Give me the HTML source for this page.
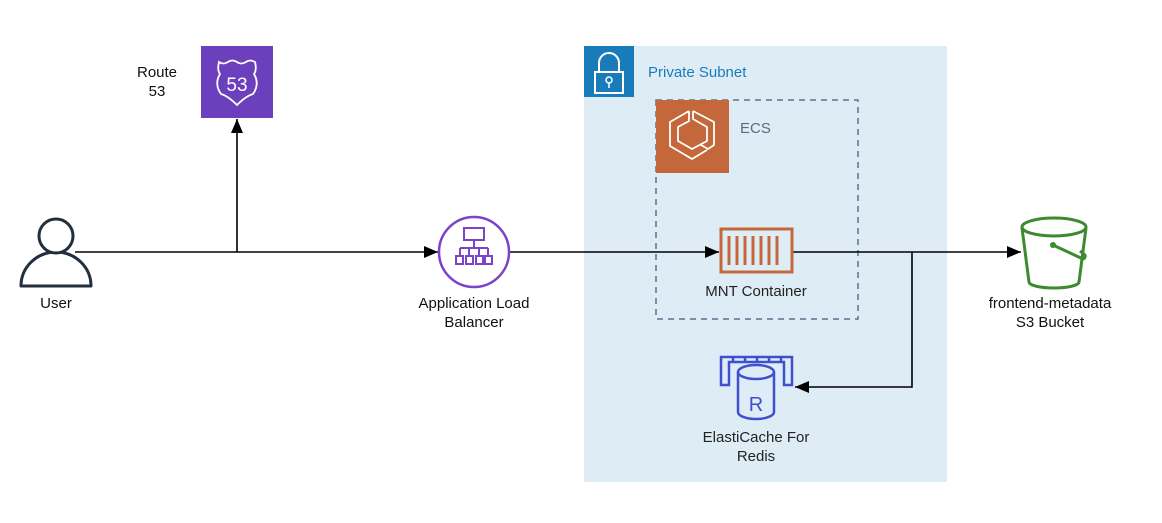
<!DOCTYPE html>
<html><head><meta charset="utf-8"><style>
body{margin:0;background:#fff;}
svg{display:block;font-family:"Liberation Sans",Arial,sans-serif;}
</style></head><body>
<svg width="1162" height="523" viewBox="0 0 1162 523" xmlns="http://www.w3.org/2000/svg">
<defs>
<marker id="b" viewBox="0 0 14 12" markerWidth="14" markerHeight="12" refX="14" refY="6" orient="auto" markerUnits="userSpaceOnUse"><path d="M0,0 L14,6 L0,12 z" fill="#000"/></marker>
</defs>
<rect x="584" y="46" width="363" height="436" fill="#deedf5"/>
<rect x="584" y="46" width="50" height="51" fill="#1a7bba"/>
<path d="M599,72 v-9 a10,10 0 0 1 20,0 v9" fill="none" stroke="#fff" stroke-width="2"/>
<rect x="595" y="72" width="28" height="21" fill="none" stroke="#fff" stroke-width="2"/>
<circle cx="609" cy="80" r="3" fill="none" stroke="#fff" stroke-width="1.5"/>
<line x1="609" y1="83" x2="609" y2="88" stroke="#fff" stroke-width="1.5"/>
<text x="648" y="77" font-size="15" fill="#1a7bba">Private Subnet</text>
<rect x="656" y="100" width="202" height="219" fill="none" stroke="#5a7390" stroke-width="1.5" stroke-dasharray="6,5"/>
<rect x="656" y="100" width="73" height="73" fill="#c4673a"/>
<path d="M689,111 L670,122 L670,146 L692,159 L707,150 M693,111 L714,122 L714,145 L708,149 L701,145 M689,111 L689,121 L678,127 L678,141 L692,149 L707,141 L707,127 L693,119 L693,111" fill="none" stroke="#fff" stroke-width="1.8" stroke-linejoin="round"/>
<text x="740" y="133" font-size="15" fill="#5a6b80">ECS</text>
<line x1="75" y1="252" x2="438" y2="252" stroke="#000" stroke-width="1.6" marker-end="url(#b)"/>
<line x1="237" y1="252" x2="237" y2="119" stroke="#000" stroke-width="1.6" marker-end="url(#b)"/>
<line x1="510" y1="252" x2="719" y2="252" stroke="#000" stroke-width="1.6" marker-end="url(#b)"/>
<line x1="793" y1="252" x2="1021" y2="252" stroke="#000" stroke-width="1.6" marker-end="url(#b)"/>
<polyline points="912,252 912,387 795,387" fill="none" stroke="#000" stroke-width="1.6" marker-end="url(#b)"/>
<rect x="201" y="46" width="72" height="72" fill="#6c3fbd"/>
<path d="M219,62 q4,3 9,0 q4,-3 9,0 q4,3 9,0 q4,-3 9,0 q2,8 -1,12 q6,10 -1,20 q-7,2 -16,11 q-9,-9 -16,-11 q-7,-10 -1,-20 q-3,-4 -1,-12z" fill="none" stroke="#fff" stroke-width="1.8"/>
<text x="237" y="91" font-size="19" fill="#fff" text-anchor="middle">53</text>
<text x="157" y="77" font-size="15" text-anchor="middle" fill="#111">Route</text>
<text x="157" y="96" font-size="15" text-anchor="middle" fill="#111">53</text>
<path d="M21,286 a35,34 0 0 1 70,0 z" fill="#fff" stroke="#232f3e" stroke-width="3" stroke-linejoin="round"/>
<circle cx="56" cy="236" r="17" fill="#fff" stroke="#232f3e" stroke-width="3"/>
<text x="56" y="308" font-size="15" text-anchor="middle" fill="#111">User</text>
<circle cx="474" cy="252" r="35" fill="#fff" stroke="#7c42c8" stroke-width="2.5"/>
<g fill="none" stroke="#7c42c8" stroke-width="2">
<rect x="464" y="228" width="20" height="12"/>
<path d="M474,240 v8 M460,248 h28 M460,248 v7 M469,248 v7 M479,248 v7 M488,248 v7"/>
<rect x="456" y="256" width="7" height="8"/><rect x="466" y="256" width="7" height="8"/><rect x="476" y="256" width="7" height="8"/><rect x="485" y="256" width="7" height="8"/>
</g>
<text x="474" y="308" font-size="15" text-anchor="middle" fill="#111">Application Load</text>
<text x="474" y="327" font-size="15" text-anchor="middle" fill="#111">Balancer</text>
<rect x="721" y="229" width="71" height="43" fill="none" stroke="#c4673a" stroke-width="3"/>
<g stroke="#c4673a" stroke-width="3">
<line x1="729" y1="236" x2="729" y2="265"/><line x1="737" y1="236" x2="737" y2="265"/><line x1="745" y1="236" x2="745" y2="265"/><line x1="753" y1="236" x2="753" y2="265"/><line x1="761" y1="236" x2="761" y2="265"/><line x1="769" y1="236" x2="769" y2="265"/><line x1="777" y1="236" x2="777" y2="265"/>
</g>
<text x="756" y="296" font-size="15" text-anchor="middle" fill="#222">MNT Container</text>
<g fill="none" stroke="#3f4fcf" stroke-width="2.5">
<path d="M721,357 h71 v28 h-8 v-23 h-55 v23 h-8 z"/>
<path d="M733,362 v-5 M745,362 v-5 M757,362 v-5 M769,362 v-5 M781,362 v-5"/>
<ellipse cx="756" cy="372" rx="18" ry="7"/>
<path d="M738,372 v40 a18,7 0 0 0 36,0 v-40"/>
</g>
<text x="756" y="411" font-size="20" text-anchor="middle" fill="#3f4fcf">R</text>
<text x="756" y="442" font-size="15" text-anchor="middle" fill="#222">ElastiCache For</text>
<text x="756" y="461" font-size="15" text-anchor="middle" fill="#222">Redis</text>
<g fill="none" stroke="#3c8b2f" stroke-width="3">
<ellipse cx="1054" cy="227" rx="32" ry="9"/>
<path d="M1022,228 l7,54 a25,6 0 0 0 50,0 l7,-54"/>
<path d="M1053,245 l30,14 a3,3 0 0 0 2,-4 l-5,-4"/>
</g>
<circle cx="1053" cy="245" r="3" fill="#3c8b2f"/>
<text x="1050" y="308" font-size="15" text-anchor="middle" fill="#111">frontend-metadata</text>
<text x="1050" y="327" font-size="15" text-anchor="middle" fill="#111">S3 Bucket</text>
</svg>
</body></html>
